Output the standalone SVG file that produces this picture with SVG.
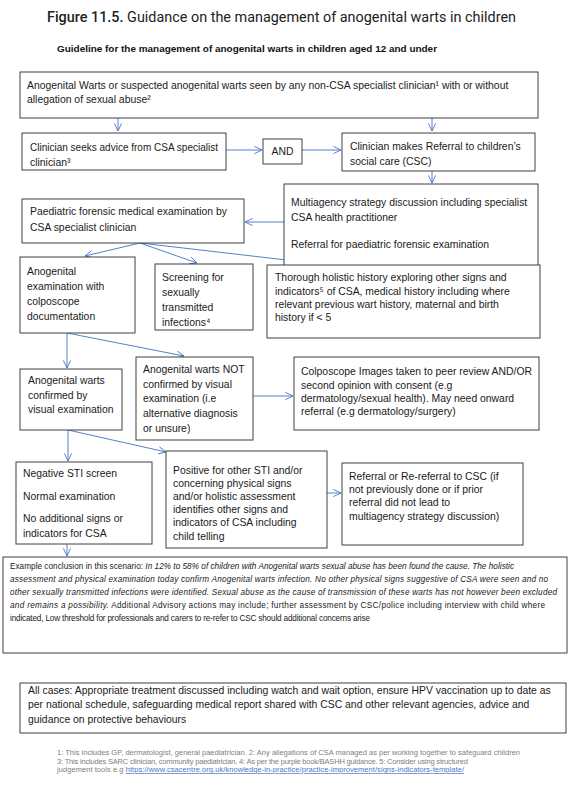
<svg xmlns="http://www.w3.org/2000/svg" width="581" height="792" viewBox="0 0 581 792">
<style>
.box{fill:#fff;stroke:#404040;stroke-width:1}
.t{font-family:"Liberation Sans",Arial,sans-serif;font-size:10.4px;fill:#1a1a1a}
.s{font-family:"Liberation Sans",Arial,sans-serif;font-size:8.2px;fill:#1a1a1a}
.i{font-style:italic}
.fn{font-family:"Liberation Sans",Arial,sans-serif;font-size:7.5px;fill:#808080}
.lk{fill:#4a78c8;text-decoration:underline}
.c{fill:none;stroke:#4472C4;stroke-width:0.9}
</style>
<defs>
<marker id="ah" viewBox="0 0 10 10" refX="9.5" refY="5" markerWidth="8" markerHeight="8" markerUnits="userSpaceOnUse" orient="auto">
<path d="M0,0.5 L9.5,5 L0,9.5" fill="none" stroke="#4472C4" stroke-width="1.1"/>
</marker>
</defs>
<rect width="581" height="792" fill="#fff"/>
<text x="47" y="22" font-family="Roboto,'Liberation Sans',sans-serif" font-size="14" fill="#222" textLength="469" lengthAdjust="spacingAndGlyphs"><tspan font-weight="500">Figure 11.5.</tspan> Guidance on the management of anogenital warts in children</text>
<text x="57" y="51.5" font-family="'Liberation Sans',Arial,sans-serif" font-size="9.5" font-weight="bold" fill="#111" textLength="380" lengthAdjust="spacingAndGlyphs">Guideline for the management of anogenital warts in children aged 12 and under</text>

<g id="connectors">
<line class="c" x1="118" y1="118" x2="118" y2="131" marker-end="url(#ah)"/>
<line class="c" x1="432" y1="118" x2="432" y2="131" marker-end="url(#ah)"/>
<line class="c" x1="226" y1="150" x2="262" y2="150" marker-end="url(#ah)"/>
<line class="c" x1="302" y1="150" x2="341" y2="150" marker-end="url(#ah)"/>
<line class="c" x1="432" y1="171" x2="432" y2="183" marker-end="url(#ah)"/>
<line class="c" x1="284" y1="222" x2="245" y2="222" marker-end="url(#ah)"/>
<line class="c" x1="140" y1="243" x2="85" y2="256" marker-end="url(#ah)"/>
<line class="c" x1="140" y1="243" x2="197" y2="263" marker-end="url(#ah)"/>
<line class="c" x1="140" y1="243" x2="321" y2="264" marker-end="url(#ah)"/>
<line class="c" x1="67" y1="333" x2="67" y2="368" marker-end="url(#ah)"/>
<line class="c" x1="67" y1="333" x2="184" y2="356" marker-end="url(#ah)"/>
<line class="c" x1="253" y1="396" x2="293" y2="396" marker-end="url(#ah)"/>
<line class="c" x1="68" y1="430" x2="68" y2="461" marker-end="url(#ah)"/>
<line class="c" x1="68" y1="430" x2="166" y2="452" marker-end="url(#ah)"/>
<line class="c" x1="327" y1="493" x2="341" y2="493" marker-end="url(#ah)"/>
<line class="c" x1="67" y1="544" x2="67" y2="556" marker-end="url(#ah)"/>
</g>

<g id="n1"><rect class="box" x="20" y="72" width="518" height="46"/>
<text class="t" x="27" y="88.5">Anogenital Warts or suspected anogenital warts seen by any non-CSA specialist clinician¹ with or without</text>
<text class="t" x="27" y="102.5">allegation of sexual abuse²</text></g>

<g id="n2"><rect class="box" x="22" y="133" width="204" height="37"/>
<text class="t" x="30" y="150.5" textLength="188" lengthAdjust="spacingAndGlyphs">Clinician seeks advice from CSA specialist</text>
<text class="t" x="30" y="165.5">clinician³</text></g>

<g id="and"><rect class="box" x="263" y="139" width="39" height="25"/>
<text class="t" x="282.5" y="154.5" text-anchor="middle">AND</text></g>

<g id="n3"><rect class="box" x="342" y="133" width="193" height="38"/>
<text class="t" x="350" y="149.5">Clinician makes Referral to children’s</text>
<text class="t" x="350" y="165">social care (CSC)</text></g>

<g id="n4"><rect class="box" x="284" y="184" width="254" height="83"/>
<text class="t" x="291" y="206">Multiagency strategy discussion including specialist</text>
<text class="t" x="291" y="221">CSA health practitioner</text>
<text class="t" x="291" y="248">Referral for paediatric forensic examination</text></g>

<g id="n5"><rect class="box" x="22" y="199" width="222" height="44"/>
<text class="t" x="30" y="215">Paediatric forensic medical examination by</text>
<text class="t" x="30" y="231">CSA specialist clinician</text></g>

<g id="n6"><rect class="box" x="20" y="257" width="115" height="76"/>
<text class="t" x="27" y="275">Anogenital</text>
<text class="t" x="27" y="290">examination with</text>
<text class="t" x="27" y="305">colposcope</text>
<text class="t" x="27" y="319.5">documentation</text></g>

<g id="n7"><rect class="box" x="155" y="264" width="98" height="66"/>
<text class="t" x="162" y="281">Screening for</text>
<text class="t" x="162" y="296">sexually</text>
<text class="t" x="162" y="311">transmitted</text>
<text class="t" x="162" y="326">infections⁴</text></g>

<g id="n8"><rect class="box" x="267" y="265" width="273" height="73"/>
<text class="t" x="275" y="281">Thorough holistic history exploring other signs and</text>
<text class="t" x="275" y="295">indicators⁵ of CSA, medical history including where</text>
<text class="t" x="275" y="308">relevant previous wart history, maternal and birth</text>
<text class="t" x="275" y="321">history if &lt; 5</text></g>

<g id="n9"><rect class="box" x="20" y="369" width="102" height="61"/>
<text class="t" x="28" y="384">Anogenital warts</text>
<text class="t" x="28" y="399">confirmed by</text>
<text class="t" x="28" y="413">visual examination</text></g>

<g id="n10"><rect class="box" x="136" y="357" width="117" height="83"/>
<text class="t" x="143" y="373">Anogenital warts NOT</text>
<text class="t" x="143" y="387.5">confirmed by visual</text>
<text class="t" x="143" y="402">examination (i.e</text>
<text class="t" x="143" y="417">alternative diagnosis</text>
<text class="t" x="143" y="432">or unsure)</text></g>

<g id="n11"><rect class="box" x="294" y="357" width="245" height="73"/>
<text class="t" x="301" y="375">Colposcope Images taken to peer review AND/OR</text>
<text class="t" x="301" y="388.5">second opinion with consent (e.g</text>
<text class="t" x="301" y="401.5">dermatology/sexual health).  May need onward</text>
<text class="t" x="301" y="415">referral (e.g dermatology/surgery)</text></g>

<g id="n12"><rect class="box" x="16" y="462" width="136" height="82"/>
<text class="t" x="23" y="477">Negative STI screen</text>
<text class="t" x="23" y="500">Normal examination</text>
<text class="t" x="23" y="522">No additional signs or</text>
<text class="t" x="23" y="536.5">indicators for CSA</text></g>

<g id="n13"><rect class="box" x="166" y="451" width="161" height="97"/>
<text class="t" x="173" y="474">Positive for other STI and/or</text>
<text class="t" x="173" y="487">concerning physical signs</text>
<text class="t" x="173" y="500">and/or holistic assessment</text>
<text class="t" x="173" y="513">identifies other signs and</text>
<text class="t" x="173" y="526">indicators of CSA including</text>
<text class="t" x="173" y="540">child telling</text></g>

<g id="n14"><rect class="box" x="342" y="463" width="181" height="82"/>
<text class="t" x="349" y="480">Referral or Re-referral to CSC (if</text>
<text class="t" x="349" y="493">not previously done or if prior</text>
<text class="t" x="349" y="506">referral did not lead to</text>
<text class="t" x="349" y="520">multiagency strategy discussion)</text></g>

<g id="n15"><rect class="box" x="3" y="557" width="564" height="96"/>
<text class="s" x="10" y="569" textLength="504">Example conclusion in this scenario: <tspan class="i">In 12% to 58% of children with Anogenital warts sexual abuse has been found the cause. The holistic</tspan></text>
<text class="s i" x="10" y="582" textLength="538">assessment and physical examination today confirm Anogenital warts infection.  No other physical signs suggestive of CSA were seen and no</text>
<text class="s i" x="10" y="595" textLength="547">other sexually transmitted infections were identified. Sexual abuse as the cause of transmission of these warts has not however been excluded</text>
<text class="s" x="10" y="608" textLength="535"><tspan class="i">and remains a possibility.</tspan> Additional Advisory actions may include; further assessment by CSC/police including interview with child where</text>
<text class="s" x="10" y="621" textLength="360">indicated, Low threshold for professionals and carers to re-refer to CSC should additional concerns arise</text></g>

<g id="n16"><rect class="box" x="20" y="683" width="546" height="50"/>
<text class="t" x="28" y="693.5">All cases: Appropriate treatment discussed including watch and wait option, ensure HPV vaccination up to date as</text>
<text class="t" x="28" y="708">per national schedule, safeguarding medical report shared with CSC and other relevant agencies, advice and</text>
<text class="t" x="28" y="722.5">guidance on protective behaviours</text></g>

<g id="footnotes">
<text class="fn" x="57" y="755" textLength="463">1: This includes GP, dermatologist, general paediatrician. 2: Any allegations of CSA managed as per working together to safeguard children</text>
<text class="fn" x="57" y="763.5" textLength="411">3: This includes SARC clinician, community paediatrician. 4: As per the purple book/BASHH guidance. 5: Consider using structured</text>
<text class="fn" x="57" y="772" textLength="407">judgement tools e.g <tspan class="lk">https://www.csacentre.org.uk/knowledge-in-practice/practice-improvement/signs-indicators-template/</tspan></text>
</g>
</svg>
